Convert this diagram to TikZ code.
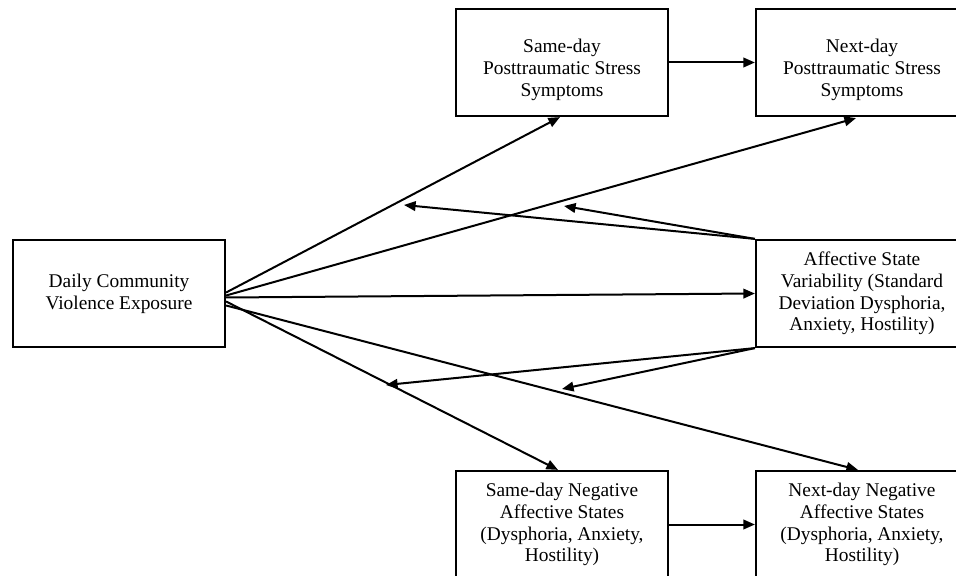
\documentclass[tikz,border=0pt]{standalone}
\usepackage{fontspec}
\setmainfont{Liberation Serif}
\usetikzlibrary{arrows.meta,calc}
\tikzset{
  txt/.style={font=\fontsize{9.7}{10.9}\selectfont, align=center},
  box/.style={txt, draw=black, line width=1.1pt, minimum width=106pt, minimum height=53.5pt, inner sep=0pt},
  lbl/.style={txt, inner sep=0pt},
  conn/.style={line width=1pt, -{Triangle[length=5.8pt,width=4.8pt]}},
}
\begin{document}
\begin{tikzpicture}[x=0.5pt,y=-0.5pt]
\useasboundingbox (0,0) rectangle (956,576);
\clip (0,0) rectangle (956,576);
\fill[white] (0,0) rectangle (956,576);

\node[box] (dcve) at (119,293.5) {Daily Community\\Violence Exposure};
\node[box] (sptss) at (562,62.5) {};
\node[lbl] (sptsst) at (562,70) {Same-day\\Posttraumatic Stress\\Symptoms};
\node[box] (nptss) at (862,62.5) {};
\node[lbl] (nptsst) at (862,70) {Next-day\\Posttraumatic Stress\\Symptoms};
\node[box] (asv) at (862,293.5) {Affective State\\Variability (Standard\\Deviation Dysphoria,\\Anxiety, Hostility)};
\node[box] (sneg) at (562,524.5) {Same-day Negative\\Affective States\\(Dysphoria, Anxiety,\\Hostility)};
\node[box] (nneg) at (862,524.5) {Next-day Negative\\Affective States\\(Dysphoria, Anxiety,\\Hostility)};

\coordinate (m1) at (404,205);
\coordinate (m2) at (564,206);
\coordinate (m3) at (386,385);
\coordinate (m4) at (562,389);

\draw[conn] (sptss.east) -- (nptss.west);
\draw[conn] (sneg.east) -- (nneg.west);

\draw[conn] ($(dcve.east)+(0,-1)$) -- ($(sptss.south)+(-2,0)$);
\draw[conn] ($(dcve.east)+(0,2)$) -- ($(nptss.south)+(-6,1)$);
\draw[conn] ($(dcve.east)+(0,4)$) -- (asv.west);
\draw[conn] ($(dcve.east)+(0,8)$) -- ($(sneg.north)+(-4,0)$);
\draw[conn] ($(dcve.east)+(0,12)$) -- ($(nneg.north)+(-4,0)$);

\draw[conn] (asv.north west) -- (m1);
\draw[conn] (asv.north west) -- (m2);
\draw[conn] (asv.south west) -- (m3);
\draw[conn] (asv.south west) -- (m4);
\end{tikzpicture}
\end{document}
